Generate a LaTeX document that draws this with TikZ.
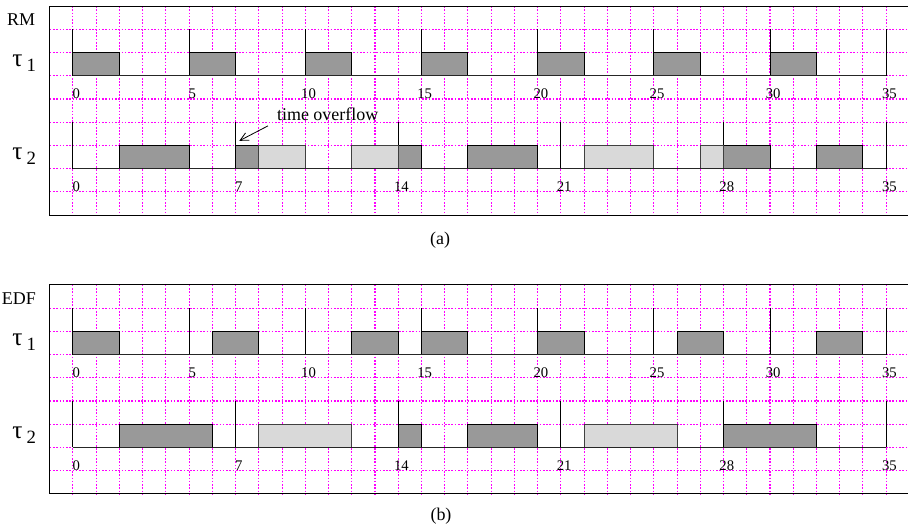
\documentclass[tikz,border=0pt]{standalone}
\usepackage{fontspec}
\setmainfont{Liberation Serif}
\definecolor{gridpink}{RGB}{255,0,255}
\usetikzlibrary{arrows.meta}

\newcommand{\tsk}[1]{{\fontsize{15.5}{16}\selectfont τ}\hspace{2.5pt}\raisebox{-3pt}{#1}}

\begin{document}
\begin{tikzpicture}[x=0.5cm, y=0.5cm,
    busy/.style={draw=black, line width=0.6pt, fill=black!40},
    late/.style={draw=black!75, line width=0.6pt, fill=black!15},
    gridln/.style={gridpink, line width=0.65pt, dash pattern=on 1pt off 1pt},
    frame/.style={draw=black, line width=0.6pt},
    axis/.style={black!85, line width=0.8pt},
    release/.style={black, line width=0.6pt},
    num/.style={font=\fontsize{9}{10}\selectfont, anchor=base, inner sep=0pt},
    lbl/.style={font=\fontsize{11}{12}\selectfont, anchor=base, inner sep=0pt},
    task/.style={font=\fontsize{11.5}{12}\selectfont, anchor=base, inner sep=0pt}
  ]
  \useasboundingbox (-3.14,-19.51) rectangle (35.94,3.26);

  % Grids and frames
  \foreach \p in {0,-12} {
    \foreach \y in {2,1,...,-5}
      \draw[gridln] (-1,\y+\p) -- (35.94,\y+\p);
    \foreach \x in {0,...,35}
      \draw[gridln] (\x,3+\p) -- (\x,-6+\p);
    \draw[frame] (36.5,3+\p) -- (-1,3+\p) -- (-1,-6+\p) -- (36.5,-6+\p);
  }

  % (a) RM
  \node[lbl] (rm) at (-2.23,2.18) {RM};
  \node[task] (ta1) at (-2.1,0.39) {\tsk{1}};
  \node[task] (ta2) at (-2.1,-3.61) {\tsk{2}};

  \foreach \x in {0,5,...,35} {
    \draw[release] (\x,0) -- (\x,2);
    \node[num] (an\x) at (\x+0.14,-1) {\x};
  }
  \foreach \x in {0,5,...,30}
    \draw[busy] (\x,0) rectangle ++(2,1);
  \draw[axis] (0,0) -- (35,0);

  \foreach \x in {0,7,...,35} {
    \draw[release] (\x,-4) -- (\x,-2);
    \node[num] (bn\x) at (\x+0.14,-5) {\x};
  }
  \foreach \a/\b in {2/5,7/8,14/15,17/20,28/30,32/34}
    \draw[busy] (\a,-4) rectangle (\b,-3);
  \foreach \a/\b in {8/10,12/14,22/25,27/28}
    \draw[late] (\a,-4) rectangle (\b,-3);
  \draw[axis] (0,-4) -- (35,-4);

  % overflow mark
  \node[lbl, anchor=base west] (ovf) at (8.77,-1.94) {time overflow};
  \coordinate (ovftip) at (7.16,-2.80);
  \draw[-{Straight Barb[length=5pt,width=5pt]}, line width=0.5pt, shorten <=6pt]
    (ovf.south west) -- (ovftip);

  \node[lbl, anchor=center] (capa) at (15.8,-7.07) {(a)};

  % (b) EDF
  \node[lbl] (edf) at (-2.33,-9.83) {EDF};
  \node[task] (tb1) at (-2.1,-11.61) {\tsk{1}};
  \node[task] (tb2) at (-2.1,-15.61) {\tsk{2}};

  \foreach \x in {0,5,...,35} {
    \draw[release] (\x,-12) -- (\x,-10);
    \node[num] (cn\x) at (\x+0.14,-13) {\x};
  }
  \foreach \a/\b in {0/2,6/8,12/14,15/17,20/22,26/28,32/34}
    \draw[busy] (\a,-12) rectangle (\b,-11);
  \draw[axis] (0,-12) -- (35,-12);

  \foreach \x in {0,7,...,35} {
    \draw[release] (\x,-16) -- (\x,-14);
    \node[num] (dn\x) at (\x+0.14,-17) {\x};
  }
  \foreach \a/\b in {2/6,14/15,17/20,28/32}
    \draw[busy] (\a,-16) rectangle (\b,-15);
  \foreach \a/\b in {8/12,22/26}
    \draw[late] (\a,-16) rectangle (\b,-15);
  \draw[axis] (0,-16) -- (35,-16);

  \node[lbl, anchor=center] (capb) at (15.84,-18.95) {(b)};
\end{tikzpicture}
\end{document}
